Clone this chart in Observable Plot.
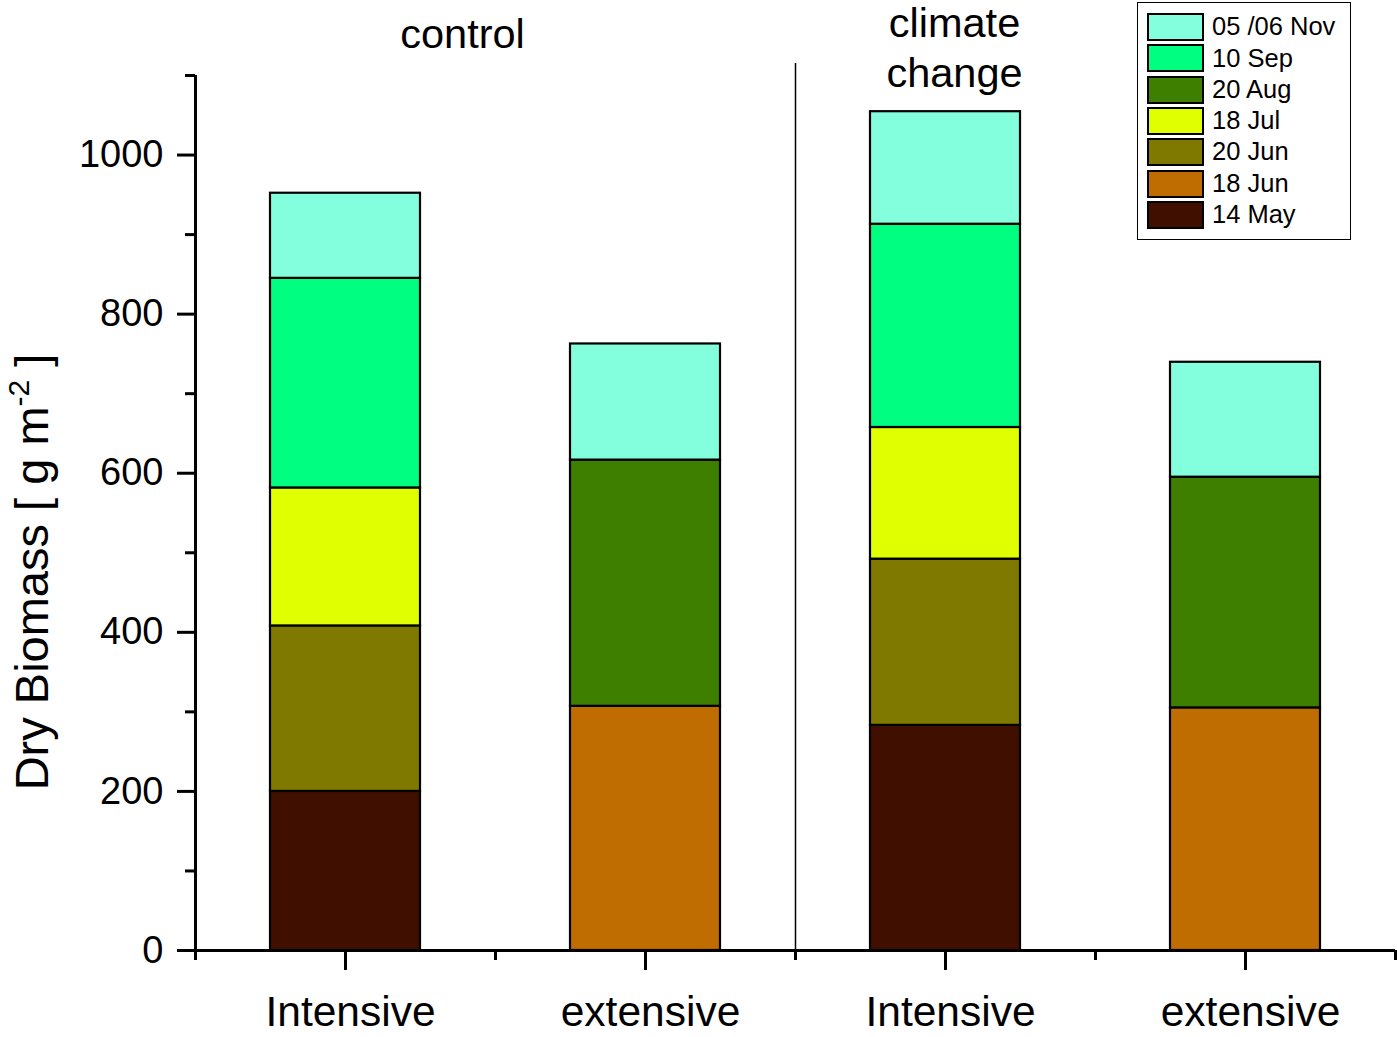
<!DOCTYPE html>
<html>
<head>
<meta charset="utf-8">
<script src="https://cdn.jsdelivr.net/npm/d3@7"></script>
<script src="https://cdn.jsdelivr.net/npm/@observablehq/plot@0.6"></script>
<style>
  html, body { margin: 0; padding: 0; background: #fff; }
  #wrap { position: relative; width: 1397px; height: 1037px; font-family: "Liberation Sans", Arial, sans-serif; }
  #legend { position: absolute; left: 1137px; top: 2px; width: 212px; height: 236px; border: 1.5px solid #000; background: #fff; box-sizing: content-box; }
  .row { position: absolute; left: 9px; height: 28px; display: flex; align-items: center; }
  .sw { width: 53px; height: 24px; border: 2px solid #000; }
  .lb { margin-left: 8px; font-size: 25.5px; color: #000; line-height: 1; }
</style>
</head>
<body>
<div id="wrap"><div id="legend"></div></div>
<script>
// ---- data ----
const groups = ["control", "control", "climate change", "climate change"];
const management = ["Intensive", "extensive", "Intensive", "extensive"];
// stacking order bottom -> top
const dates = ["14 May", "18 Jun", "20 Jun", "18 Jul", "20 Aug", "10 Sep", "05 /06 Nov"];
const colors = ["#400F00", "#BF6C00", "#807900", "#E0FF00", "#3E7F00", "#00FF80", "#84FFDE"];
const may14 = [200, 0, 283, 0];
const jun18 = [0, 307, 0, 305];
const jun20 = [208, 0, 209, 0];
const jul18 = [173.5, 0, 165.5, 0];
const aug20 = [0, 309.5, 0, 290];
const sep10 = [263.5, 0, 255.5, 0];
const nov = [107, 146, 141.5, 144.5];
const series = [may14, jun18, jun20, jul18, aug20, sep10, nov];
const yTicks = [0, 200, 400, 600, 800, 1000];
const yMinor = [100, 300, 500, 700, 900, 1100];
const groupLabels = ["control", "climate\nchange"];

// ---- build stacked rects ----
const rows = [];
management.forEach((m, i) => {
  let base = 0;
  series.forEach((s, k) => {
    const v = s[i];
    if (v > 0) {
      rows.push({pos: i + 1, y1: base, y2: base + v, date: dates[k], color: colors[k]});
      base += v;
    }
  });
});

const chart = Plot.plot({
  width: 1397,
  height: 1037,
  marginLeft: 195,
  marginRight: 2,
  marginTop: 75,
  marginBottom: 87,
  x: {type: "linear", domain: [0.5, 4.5], axis: null},
  y: {domain: [0, 1100], axis: null},
  style: {fontFamily: "'Liberation Sans', Arial, sans-serif", background: "white", color: "black", overflow: "visible"},
  marks: [
    Plot.rect(rows, {x1: d => d.pos - 0.25, x2: d => d.pos + 0.25, y1: "y1", y2: "y2", fill: "color", stroke: "black", strokeWidth: 2.2}),
    Plot.ruleX([2.5], {y1: 0, y2: 1115, stroke: "black", strokeWidth: 1.5}),
    Plot.axisY({ticks: yTicks, tickSize: 18, tickPadding: 14, fontSize: 38, strokeWidth: 3, tickFormat: d => String(d), label: null, anchor: "left"}),
    Plot.axisY({ticks: yMinor, tickSize: 10, tickFormat: () => "", strokeWidth: 3, label: null, anchor: "left"}),
    Plot.axisX({ticks: [1, 2, 3, 4], tickSize: 20, tickFormat: () => "", strokeWidth: 3, label: null, anchor: "bottom"}),
    Plot.axisX({ticks: [1, 2, 3, 4], tickSize: 0, tickPadding: 45, fontSize: 42.5, dx: 5, tickFormat: d => management[d - 1], label: null, anchor: "bottom"}),
    Plot.axisX({ticks: [0.5, 1.5, 2.5, 3.5, 4.5], tickSize: 10, tickFormat: () => "", strokeWidth: 3, label: null, anchor: "bottom"}),
    Plot.ruleX([0.5], {y1: 0, y2: 1100, stroke: "black", strokeWidth: 3}),
    Plot.ruleY([0], {x1: 0.5, x2: 4.5, stroke: "black", strokeWidth: 3}),
    Plot.text(groupLabels, {x: [1.39, 3.03], y: [1155, 1137], text: d => d, fontSize: 41.5, lineHeight: 1.2, fill: "black"})
  ]
});

// y-axis title with superscript
const svg = d3.select(chart);
const t = svg.append("text")
  .attr("transform", "translate(48,572) rotate(-90)")
  .attr("text-anchor", "middle")
  .attr("font-size", 47)
  .attr("fill", "black");
t.append("tspan").text("Dry Biomass [ g m");
t.append("tspan").attr("font-size", 30).attr("dy", -19).text("-2");
t.append("tspan").attr("dy", 19).text(" ]");

document.getElementById("wrap").prepend(chart);

// ---- legend (top -> bottom reverses stacking order) ----
const legend = document.getElementById("legend");
dates.slice().reverse().forEach((d, i) => {
  const c = colors[colors.length - 1 - i];
  const row = document.createElement("div");
  row.className = "row";
  row.style.top = (10 + i * 31.3) + "px";
  row.innerHTML = `<div class="sw" style="background:${c}"></div><span class="lb">${d}</span>`;
  legend.appendChild(row);
});
</script>
</body>
</html>
